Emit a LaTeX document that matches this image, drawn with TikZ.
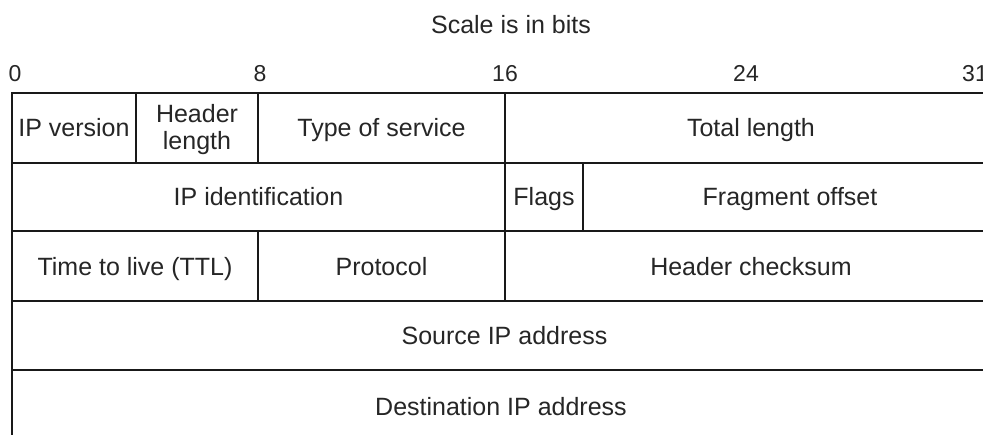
\documentclass[tikz,border=0pt]{standalone}
\usepackage{fontspec}
\setmainfont{Liberation Sans}
\begin{document}
\begin{tikzpicture}[x=1pt,y=-1pt,
  grid/.style={line width=2.6pt, draw=black!90},
  lbl/.style={inner sep=0pt, text=black!85, font=\fontsize{25}{27}\selectfont, anchor=base},
  num/.style={inner sep=0pt, text=black!85, font=\fontsize{23}{26}\selectfont, anchor=base}]
\useasboundingbox[fill=white] (0,0) rectangle (983,434);
% horizontal rules
\foreach \y in {93,163,231,301,370}
  \draw[grid, line cap=rect] (12,\y) -- (995,\y);
% vertical rules
\draw[grid] (12,93) -- (12,445);
\draw[grid] (136,93) -- (136,163);
\draw[grid] (258,93) -- (258,163);
\draw[grid] (258,231) -- (258,301);
\draw[grid] (505,93) -- (505,301);
\draw[grid] (583,163) -- (583,231);
% title and scale
\node[lbl] (title) at (511,33) {Scale is in bits};
\node[num] (b0) at (15,81) {0};
\node[num] (b8) at (260,81) {8};
\node[num] (b16) at (505,81) {16};
\node[num] (b24) at (746,81) {24};
\node[num] (b31) at (975,81) {31};
% row 1
\node[lbl] (ipv) at (74,136) {IP version};
\node[lbl, anchor=center, align=center] (hlen) at (197,130) {Header\\length};
\node[lbl] (tos) at (381.5,136) {Type of service};
\node[lbl] (tlen) at (751,136) {Total length};
% row 2
\node[lbl] (ident) at (258.5,205) {IP identification};
\node[lbl] (flags) at (544,205) {Flags};
\node[lbl] (frag) at (790,205) {Fragment offset};
% row 3
\node[lbl] (ttl) at (135,275) {Time to live (TTL)};
\node[lbl] (proto) at (381.5,275) {Protocol};
\node[lbl] (csum) at (751,275) {Header checksum};
% row 4
\node[lbl] (src) at (504.5,344) {Source IP address};
% row 5
\node[lbl] (dst) at (501,415) {Destination IP address};
\end{tikzpicture}
\end{document}
